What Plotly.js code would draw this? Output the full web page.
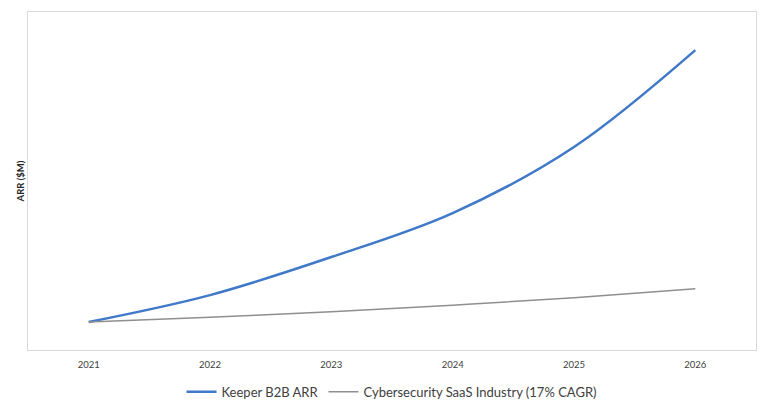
<!DOCTYPE html>
<html>
<head>
<meta charset="utf-8">
<script src="https://cdn.plot.ly/plotly-3.0.1.min.js"></script>
<style>
  html, body { margin: 0; padding: 0; background: #fff; }
  #chart { width: 768px; height: 408px; }
</style>
</head>
<body>
<div id="chart"></div>
<script>
var years = [2021, 2022, 2023, 2024, 2025, 2026];
var yearLabels = ['2021', '2022', '2023', '2024', '2025', '2026'];
// ARR in $M (no scale shown on the original, read relative to the zero line)
var keeperArr = [10, 19.6, 33.2, 48.9, 72.5, 107.1];
var industryArr = [10, 11.7, 13.7, 16.0, 18.7, 21.9];

var traces = [
  {
    x: years,
    y: keeperArr,
    type: 'scatter',
    mode: 'lines',
    name: 'Keeper B2B ARR',
    line: { color: '#3f79c8', width: 2.5, shape: 'spline' }
  },
  {
    x: years,
    y: industryArr,
    type: 'scatter',
    mode: 'lines',
    name: 'Cybersecurity SaaS Industry (17% CAGR)',
    line: { color: '#8f8f8f', width: 1.5, shape: 'spline' }
  }
];

var layout = {
  width: 768,
  height: 408,
  margin: { l: 28, r: 12, t: 12, b: 58 },
  paper_bgcolor: '#ffffff',
  plot_bgcolor: '#ffffff',
  font: { family: 'Lato, "Open Sans", sans-serif', color: '#404040' },
  showlegend: true,
  legend: {
    orientation: 'h',
    x: 0.5,
    xanchor: 'center',
    yref: 'container',
    y: 0.04,
    yanchor: 'middle',
    font: { size: 13, color: '#404040' },
    itemwidth: 30
  },
  xaxis: {
    range: [2020.5, 2026.5],
    tickvals: years,
    ticktext: yearLabels,
    showgrid: false,
    zeroline: false,
    showline: true,
    mirror: true,
    linecolor: '#d9d9d9',
    linewidth: 1,
    ticks: '',
    ticklabelstandoff: 6,
    tickfont: { size: 9.5, color: '#404040' },
    fixedrange: true
  },
  yaxis: {
    range: [0, 120.7],
    showticklabels: false,
    showgrid: false,
    zeroline: false,
    showline: true,
    mirror: true,
    linecolor: '#d9d9d9',
    linewidth: 1,
    ticks: '',
    title: { text: '<b>ARR ($M)</b>', font: { size: 9.5, color: '#262626' }, standoff: 0 },
    fixedrange: true
  }
};

Plotly.newPlot('chart', traces, layout, { displayModeBar: false, staticPlot: true });
</script>
</body>
</html>
